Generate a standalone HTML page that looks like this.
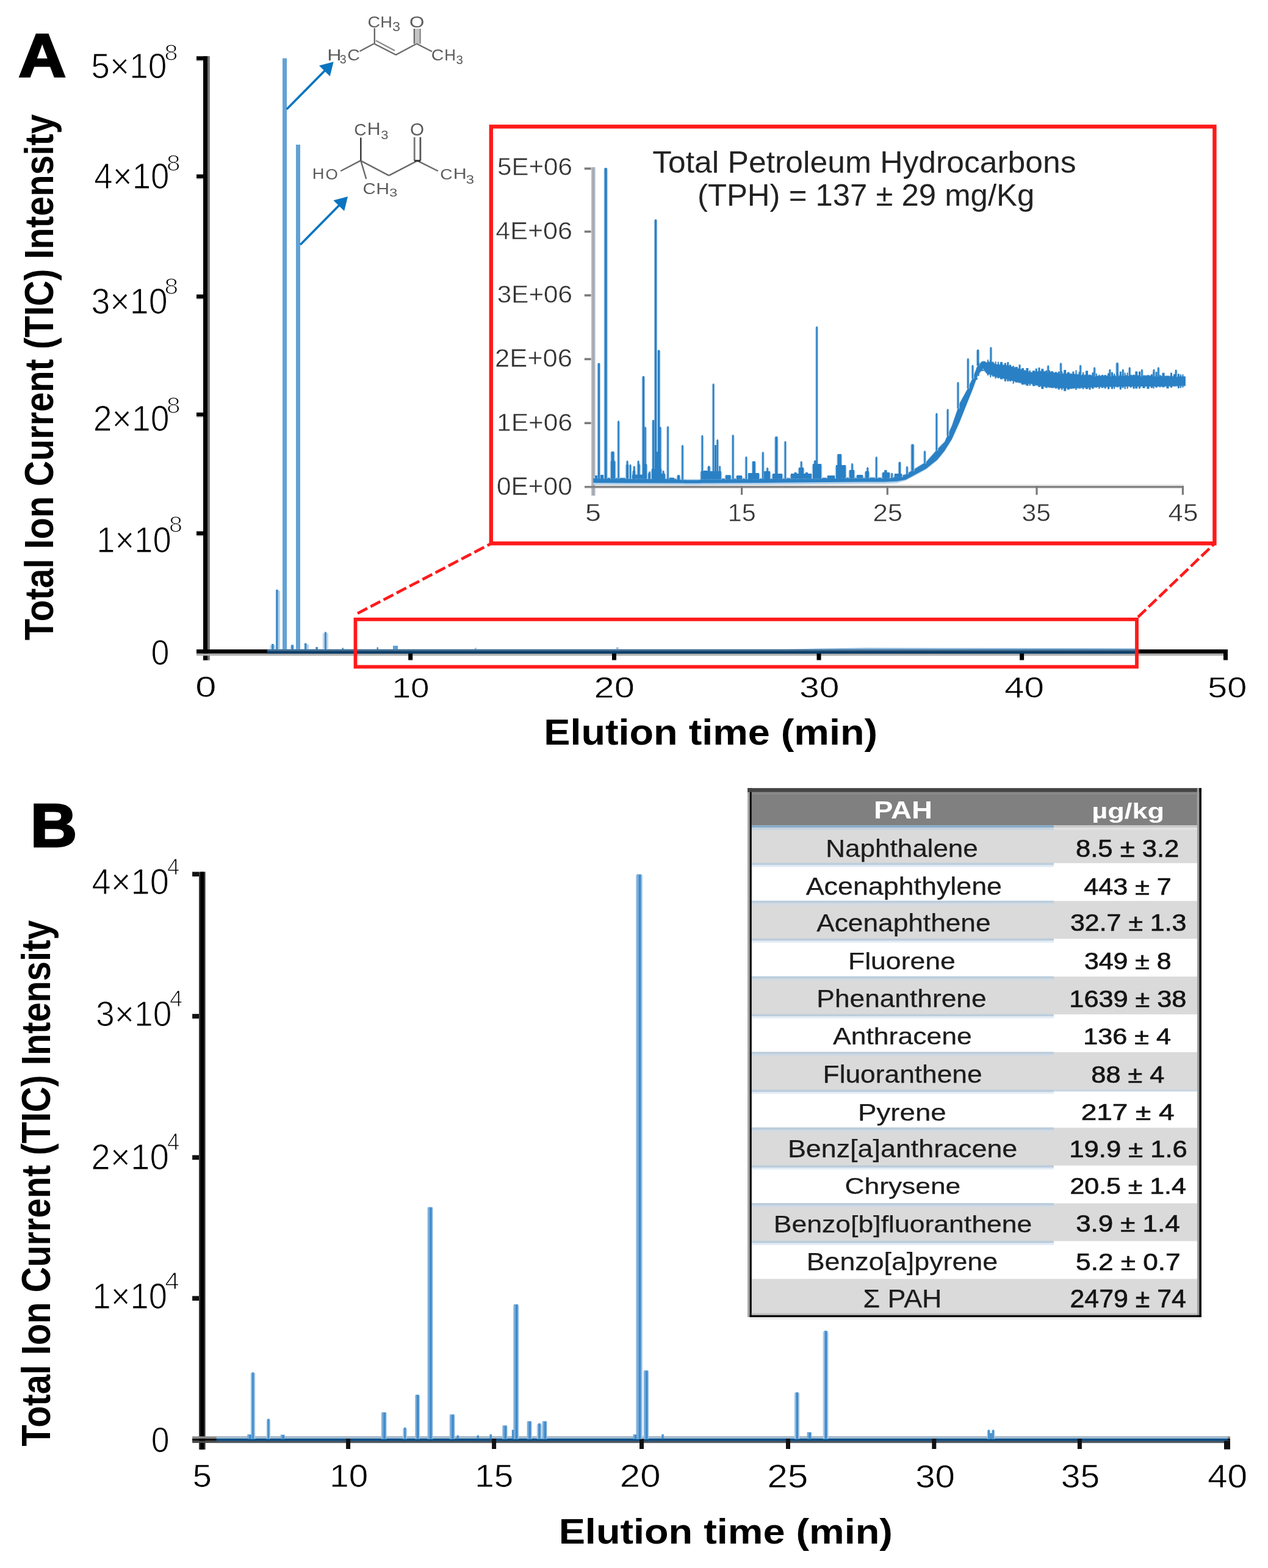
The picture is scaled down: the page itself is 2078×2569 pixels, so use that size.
<!DOCTYPE html>
<html><head><meta charset="utf-8"><title>TIC chromatograms</title>
<style>
html,body{margin:0;padding:0;background:#fff;overflow:hidden;}
svg{display:block;}
</style></head>
<body>
<svg width="2078" height="2569" viewBox="0 0 2078 2569">
<rect width="2078" height="2569" fill="#fff"/>
<text x="30.21" y="126.30" font-size="99.71" textLength="77.93" lengthAdjust="spacingAndGlyphs" font-family="Liberation Sans, Arial, sans-serif" font-weight="bold" fill="#000" stroke="#000" stroke-width="3.0">A</text>
<text transform="translate(86.80 1049.25) rotate(-90)" x="0" y="0" font-size="67.30" textLength="862.25" lengthAdjust="spacingAndGlyphs" font-family="Liberation Sans, Arial, sans-serif" font-weight="bold" fill="#000">Total Ion Current (TIC) Intensity</text>
<rect x="333.00" y="92.00" width="7.00" height="989.80" fill="#000"/>
<rect x="340.00" y="92.00" width="3.80" height="989.80" fill="#707070"/>
<rect x="322.00" y="92.20" width="11.00" height="6.60" fill="#000"/>
<rect x="322.00" y="98.80" width="11.00" height="1.70" fill="#c8c8c8"/>
<rect x="322.00" y="285.70" width="11.00" height="6.60" fill="#000"/>
<rect x="322.00" y="292.30" width="11.00" height="1.70" fill="#c8c8c8"/>
<rect x="322.00" y="482.50" width="11.00" height="6.60" fill="#000"/>
<rect x="322.00" y="489.10" width="11.00" height="1.70" fill="#c8c8c8"/>
<rect x="322.00" y="675.90" width="11.00" height="6.60" fill="#000"/>
<rect x="322.00" y="682.50" width="11.00" height="1.70" fill="#c8c8c8"/>
<rect x="322.00" y="870.50" width="11.00" height="6.60" fill="#000"/>
<rect x="322.00" y="877.10" width="11.00" height="1.70" fill="#c8c8c8"/>
<text x="149.34" y="127.75" font-size="58.28" textLength="124.16" lengthAdjust="spacingAndGlyphs" font-family="Liberation Sans, Arial, sans-serif" fill="#000" stroke="#fff" stroke-width="1.1">5×10</text>
<text x="269.59" y="98.90" font-size="36.82" textLength="21.93" lengthAdjust="spacingAndGlyphs" font-family="Liberation Sans, Arial, sans-serif" fill="#000" stroke="#fff" stroke-width="1.2">8</text>
<text x="154.29" y="309.05" font-size="59.01" textLength="123.19" lengthAdjust="spacingAndGlyphs" font-family="Liberation Sans, Arial, sans-serif" fill="#000" stroke="#fff" stroke-width="1.1">4×10</text>
<text x="273.04" y="279.60" font-size="36.68" textLength="22.52" lengthAdjust="spacingAndGlyphs" font-family="Liberation Sans, Arial, sans-serif" fill="#000" stroke="#fff" stroke-width="1.2">8</text>
<text x="149.43" y="514.35" font-size="58.58" textLength="125.19" lengthAdjust="spacingAndGlyphs" font-family="Liberation Sans, Arial, sans-serif" fill="#000" stroke="#fff" stroke-width="1.1">3×10</text>
<text x="269.53" y="481.80" font-size="36.82" textLength="22.64" lengthAdjust="spacingAndGlyphs" font-family="Liberation Sans, Arial, sans-serif" fill="#000" stroke="#fff" stroke-width="1.2">8</text>
<text x="152.76" y="706.25" font-size="58.58" textLength="124.75" lengthAdjust="spacingAndGlyphs" font-family="Liberation Sans, Arial, sans-serif" fill="#000" stroke="#fff" stroke-width="1.1">2×10</text>
<text x="273.04" y="676.90" font-size="36.39" textLength="22.52" lengthAdjust="spacingAndGlyphs" font-family="Liberation Sans, Arial, sans-serif" fill="#000" stroke="#fff" stroke-width="1.2">8</text>
<text x="158.30" y="904.85" font-size="58.58" textLength="122.57" lengthAdjust="spacingAndGlyphs" font-family="Liberation Sans, Arial, sans-serif" fill="#000" stroke="#fff" stroke-width="1.1">1×10</text>
<text x="277.09" y="871.80" font-size="36.39" textLength="21.93" lengthAdjust="spacingAndGlyphs" font-family="Liberation Sans, Arial, sans-serif" fill="#000" stroke="#fff" stroke-width="1.2">8</text>
<text x="247.44" y="1089.05" font-size="57.34" textLength="30.02" lengthAdjust="spacingAndGlyphs" font-family="Liberation Sans, Arial, sans-serif" fill="#000" stroke="#fff" stroke-width="1.1">0</text>
<rect x="322.00" y="1064.00" width="1690.00" height="6.80" fill="#000"/>
<rect x="322.00" y="1070.80" width="1690.00" height="3.60" fill="#b0b0b0"/>
<rect x="669.20" y="1067.00" width="7.00" height="14.50" fill="#000"/>
<rect x="1003.00" y="1067.00" width="7.00" height="14.50" fill="#000"/>
<rect x="1338.50" y="1067.00" width="7.00" height="14.50" fill="#000"/>
<rect x="1671.10" y="1067.00" width="7.00" height="14.50" fill="#000"/>
<rect x="2005.00" y="1067.00" width="7.00" height="14.50" fill="#000"/>
<text x="320.30" y="1141.90" font-size="47.74" textLength="34.20" lengthAdjust="spacingAndGlyphs" font-family="Liberation Sans, Arial, sans-serif" fill="#000" stroke="#fff" stroke-width="0.6">0</text>
<text x="642.62" y="1142.70" font-size="46.95" textLength="61.02" lengthAdjust="spacingAndGlyphs" font-family="Liberation Sans, Arial, sans-serif" fill="#000" stroke="#fff" stroke-width="0.6">10</text>
<text x="973.50" y="1142.70" font-size="48.71" textLength="66.44" lengthAdjust="spacingAndGlyphs" font-family="Liberation Sans, Arial, sans-serif" fill="#000" stroke="#fff" stroke-width="0.6">20</text>
<text x="1309.96" y="1143.30" font-size="48.16" textLength="65.44" lengthAdjust="spacingAndGlyphs" font-family="Liberation Sans, Arial, sans-serif" fill="#000" stroke="#fff" stroke-width="0.6">30</text>
<text x="1645.96" y="1143.30" font-size="47.42" textLength="65.13" lengthAdjust="spacingAndGlyphs" font-family="Liberation Sans, Arial, sans-serif" fill="#000" stroke="#fff" stroke-width="0.6">40</text>
<text x="1979.09" y="1143.30" font-size="47.42" textLength="64.27" lengthAdjust="spacingAndGlyphs" font-family="Liberation Sans, Arial, sans-serif" fill="#000" stroke="#fff" stroke-width="0.6">50</text>
<text x="891.27" y="1219.60" font-size="58.72" textLength="546.76" lengthAdjust="spacingAndGlyphs" font-family="Liberation Sans, Arial, sans-serif" font-weight="bold" fill="#000">Elution time (min)</text>
<rect x="437.90" y="1063.70" width="1426.10" height="3.50" fill="#3f6a8e"/>
<rect x="437.90" y="1067.20" width="1426.10" height="3.60" fill="#043f6d"/>
<path d="M1290 1063.7 L1340 1062.4 L1420 1061.6 L1864 1062.2 L1864 1063.8 L1290 1063.8 Z" fill="#7fb0da"/>
<rect x="442.50" y="1057.00" width="8.70" height="7.00" fill="#bcd5ec"/>
<rect x="445.00" y="1055.00" width="3.70" height="9.00" fill="#3d8cc8"/>
<rect x="452.10" y="966.10" width="3.70" height="97.90" fill="#3d8cc8"/>
<rect x="455.80" y="968.00" width="3.00" height="96.00" fill="#b4d0ea"/>
<rect x="463.00" y="95.50" width="7.10" height="968.50" fill="#64a2d4"/>
<rect x="475.70" y="1058.40" width="6.70" height="5.60" fill="#bcd5ec"/>
<rect x="477.20" y="1056.40" width="3.70" height="7.60" fill="#3d8cc8"/>
<rect x="485.00" y="237.00" width="7.00" height="827.00" fill="#64a2d4"/>
<rect x="498.90" y="1054.00" width="3.80" height="10.00" fill="#3d8cc8"/>
<rect x="502.70" y="1056.00" width="3.30" height="8.00" fill="#b4d0ea"/>
<rect x="517.30" y="1060.10" width="3.70" height="3.90" fill="#3d8cc8"/>
<rect x="528.90" y="1037.40" width="9.00" height="26.60" fill="#bcd5ec"/>
<rect x="531.90" y="1035.40" width="3.00" height="28.60" fill="#3d8cc8"/>
<rect x="560.50" y="1061.50" width="2.50" height="2.50" fill="#3d8cc8"/>
<rect x="617.50" y="1060.50" width="2.50" height="3.50" fill="#3d8cc8"/>
<rect x="644.00" y="1058.00" width="8.00" height="6.00" fill="#5d9fd3"/>
<rect x="778.00" y="1061.50" width="3.00" height="2.50" fill="#8dbbe2"/>
<rect x="1010.00" y="1060.50" width="3.50" height="3.50" fill="#8dbbe2"/>
<line x1="469.80" y1="179.00" x2="533.24" y2="114.81" stroke="#0a74c0" stroke-width="3.60"/>
<polygon points="546.60,101.30 540.73,125.02 522.95,107.45" fill="#0a74c0"/>
<line x1="492.10" y1="401.00" x2="556.66" y2="335.53" stroke="#0a74c0" stroke-width="3.60"/>
<polygon points="570.00,322.00 564.16,345.73 546.35,328.18" fill="#0a74c0"/>
<text x="536.36" y="98.60" font-size="26.02" textLength="23.27" lengthAdjust="spacingAndGlyphs" font-family="Liberation Sans, Arial, sans-serif" fill="#5c5c5c">H</text>
<text x="556.75" y="104.00" font-size="20.77" textLength="10.91" lengthAdjust="spacingAndGlyphs" font-family="Liberation Sans, Arial, sans-serif" fill="#5c5c5c">3</text>
<text x="569.36" y="98.60" font-size="25.64" textLength="20.53" lengthAdjust="spacingAndGlyphs" font-family="Liberation Sans, Arial, sans-serif" fill="#5c5c5c">C</text>
<text x="602.56" y="44.70" font-size="25.64" textLength="20.53" lengthAdjust="spacingAndGlyphs" font-family="Liberation Sans, Arial, sans-serif" fill="#5c5c5c">C</text>
<text x="623.17" y="44.70" font-size="26.02" textLength="19.65" lengthAdjust="spacingAndGlyphs" font-family="Liberation Sans, Arial, sans-serif" fill="#5c5c5c">H</text>
<text x="643.12" y="51.00" font-size="22.21" textLength="12.90" lengthAdjust="spacingAndGlyphs" font-family="Liberation Sans, Arial, sans-serif" fill="#5c5c5c">3</text>
<text x="670.92" y="44.90" font-size="25.56" textLength="24.38" lengthAdjust="spacingAndGlyphs" font-family="Liberation Sans, Arial, sans-serif" fill="#5c5c5c">O</text>
<text x="706.86" y="98.60" font-size="25.64" textLength="20.53" lengthAdjust="spacingAndGlyphs" font-family="Liberation Sans, Arial, sans-serif" fill="#5c5c5c">C</text>
<text x="728.37" y="98.60" font-size="26.02" textLength="18.75" lengthAdjust="spacingAndGlyphs" font-family="Liberation Sans, Arial, sans-serif" fill="#5c5c5c">H</text>
<text x="747.62" y="105.00" font-size="20.77" textLength="11.38" lengthAdjust="spacingAndGlyphs" font-family="Liberation Sans, Arial, sans-serif" fill="#5c5c5c">3</text>
<line x1="589.50" y1="84.00" x2="612.50" y2="71.70" stroke="#6a6a6a" stroke-width="2.40" stroke-linecap="butt"/>
<line x1="613.80" y1="71.70" x2="613.80" y2="46.00" stroke="#6a6a6a" stroke-width="2.40" stroke-linecap="butt"/>
<line x1="612.50" y1="71.20" x2="649.00" y2="90.00" stroke="#6a6a6a" stroke-width="2.40" stroke-linecap="butt"/>
<line x1="616.00" y1="66.50" x2="647.00" y2="83.00" stroke="#8a8a8a" stroke-width="2.40" stroke-linecap="butt"/>
<line x1="648.50" y1="90.00" x2="683.00" y2="71.50" stroke="#6a6a6a" stroke-width="2.40" stroke-linecap="butt"/>
<line x1="679.00" y1="71.70" x2="679.00" y2="47.00" stroke="#6a6a6a" stroke-width="2.60" stroke-linecap="butt"/>
<line x1="688.50" y1="71.70" x2="688.50" y2="47.00" stroke="#8a8a8a" stroke-width="2.60" stroke-linecap="butt"/>
<rect x="680.30" y="47.00" width="6.90" height="24.70" fill="#c4c4c4"/>
<line x1="682.50" y1="71.50" x2="708.00" y2="84.50" stroke="#6a6a6a" stroke-width="2.40" stroke-linecap="butt"/>
<text x="511.65" y="293.20" font-size="24.56" textLength="19.78" lengthAdjust="spacingAndGlyphs" font-family="Liberation Sans, Arial, sans-serif" fill="#5c5c5c">H</text>
<text x="533.56" y="293.50" font-size="24.72" textLength="20.28" lengthAdjust="spacingAndGlyphs" font-family="Liberation Sans, Arial, sans-serif" fill="#5c5c5c">O</text>
<text x="580.17" y="221.50" font-size="28.53" textLength="20.30" lengthAdjust="spacingAndGlyphs" font-family="Liberation Sans, Arial, sans-serif" fill="#5c5c5c">C</text>
<text x="601.72" y="221.30" font-size="28.63" textLength="21.85" lengthAdjust="spacingAndGlyphs" font-family="Liberation Sans, Arial, sans-serif" fill="#5c5c5c">H</text>
<text x="624.36" y="227.90" font-size="19.63" textLength="12.20" lengthAdjust="spacingAndGlyphs" font-family="Liberation Sans, Arial, sans-serif" fill="#5c5c5c">3</text>
<text x="594.61" y="318.40" font-size="26.41" textLength="21.21" lengthAdjust="spacingAndGlyphs" font-family="Liberation Sans, Arial, sans-serif" fill="#5c5c5c">C</text>
<text x="616.22" y="318.20" font-size="26.45" textLength="21.85" lengthAdjust="spacingAndGlyphs" font-family="Liberation Sans, Arial, sans-serif" fill="#5c5c5c">H</text>
<text x="637.99" y="322.30" font-size="18.48" textLength="13.26" lengthAdjust="spacingAndGlyphs" font-family="Liberation Sans, Arial, sans-serif" fill="#5c5c5c">3</text>
<text x="672.10" y="221.70" font-size="28.81" textLength="23.02" lengthAdjust="spacingAndGlyphs" font-family="Liberation Sans, Arial, sans-serif" fill="#5c5c5c">O</text>
<text x="721.27" y="293.50" font-size="23.16" textLength="20.30" lengthAdjust="spacingAndGlyphs" font-family="Liberation Sans, Arial, sans-serif" fill="#5c5c5c">C</text>
<text x="742.80" y="293.20" font-size="23.40" textLength="21.98" lengthAdjust="spacingAndGlyphs" font-family="Liberation Sans, Arial, sans-serif" fill="#5c5c5c">H</text>
<text x="763.79" y="301.30" font-size="20.77" textLength="13.26" lengthAdjust="spacingAndGlyphs" font-family="Liberation Sans, Arial, sans-serif" fill="#5c5c5c">3</text>
<line x1="558.20" y1="280.30" x2="590.50" y2="263.40" stroke="#6a6a6a" stroke-width="2.40" stroke-linecap="butt"/>
<line x1="591.30" y1="264.50" x2="591.30" y2="225.50" stroke="#333" stroke-width="2.40" stroke-linecap="butt"/>
<line x1="591.30" y1="263.40" x2="600.20" y2="293.20" stroke="#6a6a6a" stroke-width="2.40" stroke-linecap="butt"/>
<line x1="591.30" y1="263.40" x2="637.30" y2="287.60" stroke="#6a6a6a" stroke-width="2.40" stroke-linecap="butt"/>
<line x1="637.30" y1="287.60" x2="684.00" y2="263.40" stroke="#6a6a6a" stroke-width="2.40" stroke-linecap="butt"/>
<line x1="679.20" y1="263.40" x2="679.20" y2="224.70" stroke="#777" stroke-width="2.80" stroke-linecap="butt"/>
<line x1="688.90" y1="263.40" x2="688.90" y2="224.70" stroke="#555" stroke-width="2.80" stroke-linecap="butt"/>
<line x1="684.00" y1="263.40" x2="717.90" y2="280.30" stroke="#6a6a6a" stroke-width="2.40" stroke-linecap="butt"/>
<line x1="679.20" y1="263.40" x2="689.00" y2="263.40" stroke="#333" stroke-width="3.00"/>
<rect x="582.5" y="1014.8" width="1280.5" height="77.7" fill="none" stroke="#ff1a1a" stroke-width="5.8"/>
<line x1="586.00" y1="1005.00" x2="804.00" y2="891.00" stroke="#ff1a1a" stroke-width="4.60" stroke-dasharray="18 6"/>
<line x1="1865.00" y1="1011.00" x2="1990.00" y2="891.00" stroke="#ff1a1a" stroke-width="4.60" stroke-dasharray="18 6"/>
<rect x="804.8" y="207.4" width="1185.6" height="682.9" fill="#fff" stroke="#ff1a1a" stroke-width="6.4"/>
<rect x="969.00" y="274.00" width="6.60" height="538.00" fill="#b8bcc4"/>
<rect x="970.80" y="274.00" width="3.00" height="538.00" fill="#a4a8b0"/>
<rect x="958.00" y="796.00" width="982.00" height="3.60" fill="#858585"/>
<rect x="975.80" y="793.20" width="964.20" height="2.80" fill="#ececec"/>
<rect x="957.80" y="274.40" width="10.80" height="3.60" fill="#7a7a7a"/>
<rect x="957.80" y="377.70" width="10.80" height="3.60" fill="#7a7a7a"/>
<rect x="957.80" y="482.10" width="10.80" height="3.60" fill="#7a7a7a"/>
<rect x="957.80" y="586.60" width="10.80" height="3.60" fill="#7a7a7a"/>
<rect x="957.80" y="691.40" width="10.80" height="3.60" fill="#7a7a7a"/>
<rect x="1214.00" y="796.00" width="3.20" height="14.70" fill="#7a7a7a"/>
<rect x="1452.70" y="796.00" width="3.20" height="14.70" fill="#7a7a7a"/>
<rect x="1697.40" y="796.00" width="3.20" height="14.70" fill="#7a7a7a"/>
<rect x="1936.80" y="796.00" width="3.20" height="14.70" fill="#7a7a7a"/>
<text x="814.96" y="286.95" font-size="41.40" textLength="123.04" lengthAdjust="spacingAndGlyphs" font-family="Liberation Sans, Arial, sans-serif" fill="#333333" stroke="#fff" stroke-width="0.5">5E+06</text>
<text x="812.16" y="391.75" font-size="41.40" textLength="125.88" lengthAdjust="spacingAndGlyphs" font-family="Liberation Sans, Arial, sans-serif" fill="#333333" stroke="#fff" stroke-width="0.5">4E+06</text>
<text x="814.84" y="496.35" font-size="41.55" textLength="123.16" lengthAdjust="spacingAndGlyphs" font-family="Liberation Sans, Arial, sans-serif" fill="#333333" stroke="#fff" stroke-width="0.5">3E+06</text>
<text x="810.96" y="601.25" font-size="41.69" textLength="127.10" lengthAdjust="spacingAndGlyphs" font-family="Liberation Sans, Arial, sans-serif" fill="#333333" stroke="#fff" stroke-width="0.5">2E+06</text>
<text x="814.12" y="706.05" font-size="41.55" textLength="123.90" lengthAdjust="spacingAndGlyphs" font-family="Liberation Sans, Arial, sans-serif" fill="#333333" stroke="#fff" stroke-width="0.5">1E+06</text>
<text x="813.99" y="810.85" font-size="42.69" textLength="123.81" lengthAdjust="spacingAndGlyphs" font-family="Liberation Sans, Arial, sans-serif" fill="#333333" stroke="#fff" stroke-width="0.5">0E+00</text>
<text x="959.08" y="854.15" font-size="41.55" textLength="25.92" lengthAdjust="spacingAndGlyphs" font-family="Liberation Sans, Arial, sans-serif" fill="#333333" stroke="#fff" stroke-width="0.5">5</text>
<text x="1192.79" y="854.15" font-size="41.55" textLength="46.10" lengthAdjust="spacingAndGlyphs" font-family="Liberation Sans, Arial, sans-serif" fill="#333333" stroke="#fff" stroke-width="0.5">15</text>
<text x="1430.45" y="853.85" font-size="40.69" textLength="48.74" lengthAdjust="spacingAndGlyphs" font-family="Liberation Sans, Arial, sans-serif" fill="#333333" stroke="#fff" stroke-width="0.5">25</text>
<text x="1674.52" y="853.85" font-size="40.69" textLength="47.52" lengthAdjust="spacingAndGlyphs" font-family="Liberation Sans, Arial, sans-serif" fill="#333333" stroke="#fff" stroke-width="0.5">35</text>
<text x="1914.44" y="853.85" font-size="40.69" textLength="49.06" lengthAdjust="spacingAndGlyphs" font-family="Liberation Sans, Arial, sans-serif" fill="#333333" stroke="#fff" stroke-width="0.5">45</text>
<text x="1069.25" y="282.70" font-size="50.58" textLength="694.30" lengthAdjust="spacingAndGlyphs" font-family="Liberation Sans, Arial, sans-serif" fill="#222222">Total Petroleum Hydrocarbons</text>
<text x="1142.95" y="336.60" font-size="50.58" textLength="552.33" lengthAdjust="spacingAndGlyphs" font-family="Liberation Sans, Arial, sans-serif" fill="#222222">(TPH) = 137 ± 29 mg/Kg</text>
<polygon points="972.3,781.8 1100.0,782.8 1118.0,784.3 1124.0,785.3 1146.0,785.3 1150.0,783.3 1250.0,782.8 1415.0,781.3 1449.0,781.8 1470.0,780.3 1484.0,776.2 1500.0,766.5 1518.0,755.6 1536.0,735.0 1548.0,722.9 1560.0,696.3 1572.5,659.9 1584.6,638.1 1594.3,617.5 1602.6,596.8 1610.9,590.8 1617.0,592.8 1624.0,590.8 1631.7,595.8 1647.0,596.8 1663.0,600.8 1678.0,605.8 1689.0,608.8 1707.0,606.8 1739.0,610.8 1761.0,611.8 1800.0,614.8 1850.0,613.8 1900.0,614.8 1942.8,615.8 1942.8,633.5 1900.0,634.5 1850.0,634.5 1800.0,635.5 1761.0,637.5 1739.0,637.5 1707.0,634.5 1689.0,630.3 1678.0,630.3 1663.0,626.2 1647.0,622.0 1631.7,618.9 1624.0,615.5 1617.0,613.5 1610.9,605.3 1602.6,615.8 1594.3,638.4 1584.6,662.6 1572.5,692.9 1560.0,720.8 1548.0,740.1 1536.0,754.7 1518.0,769.2 1500.0,778.9 1484.0,787.4 1470.0,791.5 1449.0,792.5 1415.0,792.5 1250.0,794.0 1150.0,794.5 1146.0,794.8 1124.0,794.8 1118.0,794.5 1100.0,794.5 972.3,794.0" fill="#b3d1ec"/>
<polygon points="972.3,783.0 1100.0,784.0 1118.0,785.5 1124.0,786.5 1146.0,786.5 1150.0,784.5 1250.0,784.0 1415.0,782.5 1449.0,783.0 1470.0,781.5 1484.0,777.4 1500.0,767.7 1518.0,756.8 1536.0,736.2 1548.0,724.1 1560.0,697.5 1572.5,661.1 1584.6,639.3 1594.3,618.7 1602.6,598.0 1610.9,592.0 1617.0,594.0 1624.0,592.0 1631.7,597.0 1647.0,598.0 1663.0,602.0 1678.0,607.0 1689.0,610.0 1707.0,608.0 1739.0,612.0 1761.0,613.0 1800.0,616.0 1850.0,615.0 1900.0,616.0 1942.8,617.0 1942.8,632.0 1900.0,633.0 1850.0,633.0 1800.0,634.0 1761.0,636.0 1739.0,636.0 1707.0,633.0 1689.0,628.8 1678.0,628.8 1663.0,624.7 1647.0,620.5 1631.7,617.4 1624.0,614.0 1617.0,612.0 1610.9,603.8 1602.6,614.3 1594.3,636.9 1584.6,661.1 1572.5,691.4 1560.0,719.3 1548.0,738.6 1536.0,753.2 1518.0,767.7 1500.0,777.4 1484.0,785.9 1470.0,788.5 1449.0,789.5 1415.0,789.5 1250.0,791.0 1150.0,791.5 1146.0,791.8 1124.0,791.8 1118.0,791.5 1100.0,791.5 972.3,791.0" fill="#2a80c4"/>
<rect x="999.50" y="756.50" width="10.20" height="27.75" fill="#b3d1ec"/>
<rect x="1024.70" y="762.50" width="6.80" height="21.94" fill="#b3d1ec"/>
<rect x="1035.50" y="772.50" width="7.00" height="12.02" fill="#b3d1ec"/>
<rect x="1043.50" y="761.80" width="6.60" height="22.78" fill="#b3d1ec"/>
<rect x="1034.50" y="779.10" width="20.60" height="5.47" fill="#b3d1ec"/>
<rect x="1060.70" y="776.90" width="6.80" height="7.82" fill="#b3d1ec"/>
<rect x="1066.50" y="769.50" width="19.00" height="15.31" fill="#b3d1ec"/>
<rect x="1082.30" y="777.50" width="9.20" height="7.40" fill="#b3d1ec"/>
<rect x="1095.30" y="784.10" width="11.20" height="0.98" fill="#b3d1ec"/>
<rect x="1108.50" y="779.80" width="7.00" height="6.20" fill="#b3d1ec"/>
<rect x="1147.10" y="773.50" width="36.20" height="11.92" fill="#b3d1ec"/>
<rect x="1158.50" y="765.50" width="6.50" height="19.94" fill="#b3d1ec"/>
<rect x="1187.50" y="779.80" width="11.60" height="5.48" fill="#b3d1ec"/>
<rect x="1205.50" y="780.50" width="12.00" height="4.69" fill="#b3d1ec"/>
<rect x="1224.50" y="776.50" width="21.00" height="8.58" fill="#b3d1ec"/>
<rect x="1250.50" y="773.50" width="13.00" height="11.44" fill="#b3d1ec"/>
<rect x="1264.50" y="777.50" width="19.00" height="7.28" fill="#b3d1ec"/>
<rect x="1294.50" y="777.50" width="37.00" height="6.93" fill="#b3d1ec"/>
<rect x="1307.50" y="767.50" width="11.00" height="16.93" fill="#b3d1ec"/>
<rect x="1330.50" y="761.50" width="17.00" height="22.69" fill="#b3d1ec"/>
<rect x="1354.50" y="780.50" width="15.00" height="3.48" fill="#b3d1ec"/>
<rect x="1368.50" y="763.50" width="19.00" height="20.34" fill="#b3d1ec"/>
<rect x="1390.50" y="771.50" width="11.00" height="12.17" fill="#b3d1ec"/>
<rect x="1402.50" y="779.50" width="13.00" height="4.05" fill="#b3d1ec"/>
<rect x="1416.50" y="773.50" width="9.00" height="10.09" fill="#b3d1ec"/>
<rect x="1444.50" y="775.50" width="15.00" height="8.29" fill="#b3d1ec"/>
<rect x="1464.50" y="777.50" width="15.00" height="4.41" fill="#b3d1ec"/>
<rect x="973.50" y="780.50" width="7.00" height="3.54" fill="#b3d1ec"/>
<rect x="982.50" y="779.50" width="8.00" height="4.61" fill="#b3d1ec"/>
<rect x="1053.50" y="761.50" width="8.00" height="23.17" fill="#b3d1ec"/>
<rect x="1072.50" y="741.50" width="9.00" height="43.32" fill="#b3d1ec"/>
<rect x="978.60" y="596.40" width="5.60" height="187.67" fill="#b3d1ec"/>
<rect x="989.50" y="276.60" width="6.40" height="507.56" fill="#b3d1ec"/>
<rect x="1000.40" y="741.20" width="7.20" height="43.05" fill="#b3d1ec"/>
<rect x="1011.20" y="690.90" width="4.80" height="93.42" fill="#b3d1ec"/>
<rect x="1025.60" y="756.30" width="4.80" height="28.14" fill="#b3d1ec"/>
<rect x="1030.60" y="762.50" width="4.80" height="21.98" fill="#b3d1ec"/>
<rect x="1036.90" y="765.10" width="4.80" height="19.42" fill="#b3d1ec"/>
<rect x="1043.70" y="756.30" width="4.80" height="28.28" fill="#b3d1ec"/>
<rect x="1051.60" y="617.80" width="5.60" height="166.84" fill="#b3d1ec"/>
<rect x="1055.10" y="700.90" width="4.80" height="83.77" fill="#b3d1ec"/>
<rect x="1062.10" y="774.00" width="4.80" height="10.72" fill="#b3d1ec"/>
<rect x="1068.00" y="689.60" width="5.60" height="95.17" fill="#b3d1ec"/>
<rect x="1071.70" y="361.00" width="5.60" height="423.80" fill="#b3d1ec"/>
<rect x="1076.80" y="575.00" width="5.60" height="209.84" fill="#b3d1ec"/>
<rect x="1079.70" y="700.90" width="4.80" height="83.96" fill="#b3d1ec"/>
<rect x="1084.70" y="772.70" width="4.80" height="12.20" fill="#b3d1ec"/>
<rect x="1092.10" y="699.90" width="4.80" height="85.06" fill="#b3d1ec"/>
<rect x="1116.10" y="730.70" width="4.80" height="55.88" fill="#b3d1ec"/>
<rect x="1148.50" y="714.60" width="4.80" height="70.90" fill="#b3d1ec"/>
<rect x="1151.60" y="772.50" width="8.80" height="12.97" fill="#b3d1ec"/>
<rect x="1159.40" y="764.90" width="4.80" height="20.54" fill="#b3d1ec"/>
<rect x="1166.70" y="630.10" width="4.80" height="155.30" fill="#b3d1ec"/>
<rect x="1169.80" y="730.70" width="5.60" height="54.69" fill="#b3d1ec"/>
<rect x="1173.40" y="721.60" width="4.80" height="63.77" fill="#b3d1ec"/>
<rect x="1177.10" y="764.90" width="4.80" height="20.45" fill="#b3d1ec"/>
<rect x="1198.80" y="713.90" width="4.80" height="71.34" fill="#b3d1ec"/>
<rect x="1210.00" y="781.00" width="4.80" height="4.19" fill="#b3d1ec"/>
<rect x="1220.50" y="749.50" width="4.80" height="35.64" fill="#b3d1ec"/>
<rect x="1231.80" y="757.20" width="7.20" height="27.87" fill="#b3d1ec"/>
<rect x="1247.90" y="741.90" width="4.80" height="43.10" fill="#b3d1ec"/>
<rect x="1255.20" y="767.70" width="4.80" height="17.23" fill="#b3d1ec"/>
<rect x="1269.10" y="716.70" width="6.40" height="68.10" fill="#b3d1ec"/>
<rect x="1284.50" y="724.40" width="4.80" height="60.26" fill="#b3d1ec"/>
<rect x="1300.50" y="775.40" width="6.40" height="9.11" fill="#b3d1ec"/>
<rect x="1310.80" y="757.20" width="4.80" height="27.23" fill="#b3d1ec"/>
<rect x="1318.70" y="775.40" width="6.40" height="8.95" fill="#b3d1ec"/>
<rect x="1333.00" y="755.80" width="5.60" height="28.42" fill="#b3d1ec"/>
<rect x="1336.20" y="536.40" width="4.80" height="247.79" fill="#b3d1ec"/>
<rect x="1338.60" y="765.60" width="5.60" height="18.57" fill="#b3d1ec"/>
<rect x="1359.60" y="782.40" width="5.60" height="1.58" fill="#b3d1ec"/>
<rect x="1371.30" y="745.40" width="8.80" height="38.46" fill="#b3d1ec"/>
<rect x="1394.20" y="760.70" width="4.80" height="22.97" fill="#b3d1ec"/>
<rect x="1419.40" y="767.00" width="4.80" height="16.60" fill="#b3d1ec"/>
<rect x="1433.80" y="749.80" width="4.80" height="34.01" fill="#b3d1ec"/>
<rect x="1448.10" y="771.60" width="6.40" height="12.24" fill="#b3d1ec"/>
<rect x="1459.20" y="776.50" width="4.80" height="6.60" fill="#b3d1ec"/>
<rect x="1471.60" y="758.30" width="5.60" height="22.91" fill="#b3d1ec"/>
<rect x="1484.10" y="765.60" width="4.80" height="11.28" fill="#b3d1ec"/>
<rect x="1492.30" y="729.20" width="6.40" height="42.23" fill="#b3d1ec"/>
<rect x="1513.10" y="740.10" width="4.80" height="19.21" fill="#b3d1ec"/>
<rect x="1532.50" y="678.40" width="4.80" height="60.06" fill="#b3d1ec"/>
<rect x="1550.70" y="671.70" width="4.80" height="42.10" fill="#b3d1ec"/>
<rect x="1567.60" y="627.50" width="4.80" height="41.88" fill="#b3d1ec"/>
<rect x="1584.00" y="588.70" width="4.80" height="47.78" fill="#b3d1ec"/>
<rect x="1591.60" y="599.60" width="4.80" height="20.74" fill="#b3d1ec"/>
<rect x="1599.80" y="574.30" width="5.60" height="24.70" fill="#b3d1ec"/>
<rect x="1621.50" y="570.20" width="4.80" height="22.83" fill="#b3d1ec"/>
<rect x="1715.30" y="600.20" width="4.80" height="10.14" fill="#b3d1ec"/>
<rect x="1736.10" y="596.10" width="4.80" height="16.84" fill="#b3d1ec"/>
<rect x="1768.20" y="599.70" width="4.80" height="15.04" fill="#b3d1ec"/>
<rect x="1791.20" y="603.20" width="4.80" height="13.31" fill="#b3d1ec"/>
<rect x="1816.50" y="606.60" width="4.80" height="10.02" fill="#b3d1ec"/>
<rect x="1828.20" y="595.70" width="5.60" height="20.68" fill="#b3d1ec"/>
<rect x="1837.90" y="606.60" width="4.80" height="9.59" fill="#b3d1ec"/>
<rect x="1848.80" y="603.20" width="4.80" height="12.82" fill="#b3d1ec"/>
<rect x="1869.00" y="606.60" width="4.80" height="9.83" fill="#b3d1ec"/>
<rect x="1888.60" y="606.60" width="4.80" height="10.22" fill="#b3d1ec"/>
<rect x="1896.00" y="603.20" width="4.80" height="13.77" fill="#b3d1ec"/>
<rect x="1924.80" y="607.20" width="4.80" height="10.44" fill="#b3d1ec"/>
<rect x="1001.00" y="755.00" width="7.20" height="29.25" fill="#2a80c4"/>
<rect x="1026.20" y="761.00" width="3.80" height="23.44" fill="#2a80c4"/>
<rect x="1037.00" y="771.00" width="4.00" height="13.52" fill="#2a80c4"/>
<rect x="1045.00" y="760.30" width="3.60" height="24.28" fill="#2a80c4"/>
<rect x="1036.00" y="777.60" width="17.60" height="6.97" fill="#2a80c4"/>
<rect x="1062.20" y="775.40" width="3.80" height="9.32" fill="#2a80c4"/>
<rect x="1068.00" y="768.00" width="16.00" height="16.81" fill="#2a80c4"/>
<rect x="1083.80" y="776.00" width="6.20" height="8.90" fill="#2a80c4"/>
<rect x="1096.80" y="782.60" width="8.20" height="2.48" fill="#2a80c4"/>
<rect x="1110.00" y="778.30" width="4.00" height="7.70" fill="#2a80c4"/>
<rect x="1148.60" y="772.00" width="33.20" height="13.42" fill="#2a80c4"/>
<rect x="1160.00" y="764.00" width="3.50" height="21.44" fill="#2a80c4"/>
<rect x="1189.00" y="778.30" width="8.60" height="6.98" fill="#2a80c4"/>
<rect x="1207.00" y="779.00" width="9.00" height="6.19" fill="#2a80c4"/>
<rect x="1226.00" y="775.00" width="18.00" height="10.08" fill="#2a80c4"/>
<rect x="1252.00" y="772.00" width="10.00" height="12.94" fill="#2a80c4"/>
<rect x="1266.00" y="776.00" width="16.00" height="8.78" fill="#2a80c4"/>
<rect x="1296.00" y="776.00" width="34.00" height="8.43" fill="#2a80c4"/>
<rect x="1309.00" y="766.00" width="8.00" height="18.43" fill="#2a80c4"/>
<rect x="1332.00" y="760.00" width="14.00" height="24.19" fill="#2a80c4"/>
<rect x="1356.00" y="779.00" width="12.00" height="4.98" fill="#2a80c4"/>
<rect x="1370.00" y="762.00" width="16.00" height="21.84" fill="#2a80c4"/>
<rect x="1392.00" y="770.00" width="8.00" height="13.67" fill="#2a80c4"/>
<rect x="1404.00" y="778.00" width="10.00" height="5.55" fill="#2a80c4"/>
<rect x="1418.00" y="772.00" width="6.00" height="11.59" fill="#2a80c4"/>
<rect x="1446.00" y="774.00" width="12.00" height="9.79" fill="#2a80c4"/>
<rect x="1466.00" y="776.00" width="12.00" height="5.91" fill="#2a80c4"/>
<rect x="975.00" y="779.00" width="4.00" height="5.04" fill="#2a80c4"/>
<rect x="984.00" y="778.00" width="5.00" height="6.11" fill="#2a80c4"/>
<rect x="1055.00" y="760.00" width="5.00" height="24.67" fill="#2a80c4"/>
<rect x="1074.00" y="740.00" width="6.00" height="44.82" fill="#2a80c4"/>
<rect x="979.80" y="594.90" width="3.20" height="189.17" fill="#2a80c4"/>
<rect x="990.70" y="275.10" width="4.00" height="509.06" fill="#2a80c4"/>
<rect x="1001.60" y="739.70" width="4.80" height="44.55" fill="#2a80c4"/>
<rect x="1012.40" y="689.40" width="2.40" height="94.92" fill="#2a80c4"/>
<rect x="1026.80" y="754.80" width="2.40" height="29.64" fill="#2a80c4"/>
<rect x="1031.80" y="761.00" width="2.40" height="23.48" fill="#2a80c4"/>
<rect x="1038.10" y="763.60" width="2.40" height="20.92" fill="#2a80c4"/>
<rect x="1044.90" y="754.80" width="2.40" height="29.78" fill="#2a80c4"/>
<rect x="1052.80" y="616.30" width="3.20" height="168.34" fill="#2a80c4"/>
<rect x="1056.30" y="699.40" width="2.40" height="85.27" fill="#2a80c4"/>
<rect x="1063.30" y="772.50" width="2.40" height="12.22" fill="#2a80c4"/>
<rect x="1069.20" y="688.10" width="3.20" height="96.67" fill="#2a80c4"/>
<rect x="1072.90" y="359.50" width="3.20" height="425.30" fill="#2a80c4"/>
<rect x="1078.00" y="573.50" width="3.20" height="211.34" fill="#2a80c4"/>
<rect x="1080.90" y="699.40" width="2.40" height="85.46" fill="#2a80c4"/>
<rect x="1085.90" y="771.20" width="2.40" height="13.70" fill="#2a80c4"/>
<rect x="1093.30" y="698.40" width="2.40" height="86.56" fill="#2a80c4"/>
<rect x="1117.30" y="729.20" width="2.40" height="57.38" fill="#2a80c4"/>
<rect x="1149.70" y="713.10" width="2.40" height="72.40" fill="#2a80c4"/>
<rect x="1152.80" y="771.00" width="6.40" height="14.47" fill="#2a80c4"/>
<rect x="1160.60" y="763.40" width="2.40" height="22.04" fill="#2a80c4"/>
<rect x="1167.90" y="628.60" width="2.40" height="156.80" fill="#2a80c4"/>
<rect x="1171.00" y="729.20" width="3.20" height="56.19" fill="#2a80c4"/>
<rect x="1174.60" y="720.10" width="2.40" height="65.27" fill="#2a80c4"/>
<rect x="1178.30" y="763.40" width="2.40" height="21.95" fill="#2a80c4"/>
<rect x="1200.00" y="712.40" width="2.40" height="72.84" fill="#2a80c4"/>
<rect x="1211.20" y="779.50" width="2.40" height="5.69" fill="#2a80c4"/>
<rect x="1221.70" y="748.00" width="2.40" height="37.14" fill="#2a80c4"/>
<rect x="1233.00" y="755.70" width="4.80" height="29.37" fill="#2a80c4"/>
<rect x="1249.10" y="740.40" width="2.40" height="44.60" fill="#2a80c4"/>
<rect x="1256.40" y="766.20" width="2.40" height="18.73" fill="#2a80c4"/>
<rect x="1270.30" y="715.20" width="4.00" height="69.60" fill="#2a80c4"/>
<rect x="1285.70" y="722.90" width="2.40" height="61.76" fill="#2a80c4"/>
<rect x="1301.70" y="773.90" width="4.00" height="10.61" fill="#2a80c4"/>
<rect x="1312.00" y="755.70" width="2.40" height="28.73" fill="#2a80c4"/>
<rect x="1319.90" y="773.90" width="4.00" height="10.45" fill="#2a80c4"/>
<rect x="1334.20" y="754.30" width="3.20" height="29.92" fill="#2a80c4"/>
<rect x="1337.40" y="534.90" width="2.40" height="249.29" fill="#2a80c4"/>
<rect x="1339.80" y="764.10" width="3.20" height="20.07" fill="#2a80c4"/>
<rect x="1360.80" y="780.90" width="3.20" height="3.08" fill="#2a80c4"/>
<rect x="1372.50" y="743.90" width="6.40" height="39.96" fill="#2a80c4"/>
<rect x="1395.40" y="759.20" width="2.40" height="24.47" fill="#2a80c4"/>
<rect x="1420.60" y="765.50" width="2.40" height="18.10" fill="#2a80c4"/>
<rect x="1435.00" y="748.30" width="2.40" height="35.51" fill="#2a80c4"/>
<rect x="1449.30" y="770.10" width="4.00" height="13.74" fill="#2a80c4"/>
<rect x="1460.40" y="775.00" width="2.40" height="8.10" fill="#2a80c4"/>
<rect x="1472.80" y="756.80" width="3.20" height="24.41" fill="#2a80c4"/>
<rect x="1485.30" y="764.10" width="2.40" height="12.78" fill="#2a80c4"/>
<rect x="1493.50" y="727.70" width="4.00" height="43.73" fill="#2a80c4"/>
<rect x="1514.30" y="738.60" width="2.40" height="20.71" fill="#2a80c4"/>
<rect x="1533.70" y="676.90" width="2.40" height="61.56" fill="#2a80c4"/>
<rect x="1551.90" y="670.20" width="2.40" height="43.60" fill="#2a80c4"/>
<rect x="1568.80" y="626.00" width="2.40" height="43.38" fill="#2a80c4"/>
<rect x="1585.20" y="587.20" width="2.40" height="49.28" fill="#2a80c4"/>
<rect x="1592.80" y="598.10" width="2.40" height="22.24" fill="#2a80c4"/>
<rect x="1601.00" y="572.80" width="3.20" height="26.20" fill="#2a80c4"/>
<rect x="1622.70" y="568.70" width="2.40" height="24.33" fill="#2a80c4"/>
<rect x="1716.50" y="598.70" width="2.40" height="11.64" fill="#2a80c4"/>
<rect x="1737.30" y="594.60" width="2.40" height="18.34" fill="#2a80c4"/>
<rect x="1769.40" y="598.20" width="2.40" height="16.54" fill="#2a80c4"/>
<rect x="1792.40" y="601.70" width="2.40" height="14.81" fill="#2a80c4"/>
<rect x="1817.70" y="605.10" width="2.40" height="11.52" fill="#2a80c4"/>
<rect x="1829.40" y="594.20" width="3.20" height="22.18" fill="#2a80c4"/>
<rect x="1839.10" y="605.10" width="2.40" height="11.09" fill="#2a80c4"/>
<rect x="1850.00" y="601.70" width="2.40" height="14.32" fill="#2a80c4"/>
<rect x="1870.20" y="605.10" width="2.40" height="11.33" fill="#2a80c4"/>
<rect x="1889.80" y="605.10" width="2.40" height="11.72" fill="#2a80c4"/>
<rect x="1897.20" y="601.70" width="2.40" height="15.27" fill="#2a80c4"/>
<rect x="1926.00" y="605.70" width="2.40" height="11.94" fill="#2a80c4"/>
<rect x="1600.00" y="602.22" width="2.00" height="4.27" fill="#2a80c4"/>
<rect x="1600.00" y="619.38" width="2.00" height="2.75" fill="#2a80c4"/>
<rect x="1602.72" y="594.16" width="2.00" height="5.75" fill="#2a80c4"/>
<rect x="1602.72" y="612.15" width="2.00" height="3.83" fill="#2a80c4"/>
<rect x="1607.95" y="592.63" width="4.00" height="3.50" fill="#2a80c4"/>
<rect x="1607.95" y="605.54" width="4.00" height="2.43" fill="#2a80c4"/>
<rect x="1612.66" y="591.94" width="2.00" height="2.63" fill="#2a80c4"/>
<rect x="1612.66" y="604.16" width="2.00" height="4.12" fill="#2a80c4"/>
<rect x="1618.00" y="589.30" width="2.00" height="6.41" fill="#2a80c4"/>
<rect x="1618.00" y="610.29" width="2.00" height="4.91" fill="#2a80c4"/>
<rect x="1622.23" y="589.73" width="2.00" height="4.78" fill="#2a80c4"/>
<rect x="1622.23" y="611.49" width="2.00" height="6.88" fill="#2a80c4"/>
<rect x="1626.40" y="592.63" width="2.00" height="2.93" fill="#2a80c4"/>
<rect x="1626.40" y="613.06" width="2.00" height="4.10" fill="#2a80c4"/>
<rect x="1630.61" y="592.37" width="2.00" height="5.92" fill="#2a80c4"/>
<rect x="1630.61" y="614.92" width="2.00" height="5.41" fill="#2a80c4"/>
<rect x="1634.86" y="592.73" width="2.00" height="6.47" fill="#2a80c4"/>
<rect x="1634.86" y="616.04" width="2.00" height="3.86" fill="#2a80c4"/>
<rect x="1639.05" y="593.15" width="4.00" height="6.33" fill="#2a80c4"/>
<rect x="1639.05" y="616.89" width="4.00" height="4.48" fill="#2a80c4"/>
<rect x="1645.88" y="594.67" width="3.00" height="5.26" fill="#2a80c4"/>
<rect x="1645.88" y="618.27" width="3.00" height="6.62" fill="#2a80c4"/>
<rect x="1650.28" y="593.26" width="3.00" height="7.56" fill="#2a80c4"/>
<rect x="1650.28" y="619.36" width="3.00" height="5.49" fill="#2a80c4"/>
<rect x="1654.03" y="597.65" width="3.00" height="4.10" fill="#2a80c4"/>
<rect x="1654.03" y="620.34" width="3.00" height="4.48" fill="#2a80c4"/>
<rect x="1659.72" y="599.16" width="2.00" height="4.02" fill="#2a80c4"/>
<rect x="1659.72" y="621.84" width="2.00" height="6.90" fill="#2a80c4"/>
<rect x="1663.75" y="601.10" width="4.00" height="3.15" fill="#2a80c4"/>
<rect x="1663.75" y="622.91" width="4.00" height="3.71" fill="#2a80c4"/>
<rect x="1669.52" y="597.44" width="3.00" height="8.73" fill="#2a80c4"/>
<rect x="1669.52" y="624.48" width="3.00" height="2.39" fill="#2a80c4"/>
<rect x="1674.04" y="603.23" width="4.00" height="4.45" fill="#2a80c4"/>
<rect x="1674.04" y="625.72" width="4.00" height="4.48" fill="#2a80c4"/>
<rect x="1678.74" y="606.55" width="2.00" height="2.66" fill="#2a80c4"/>
<rect x="1678.74" y="626.80" width="2.00" height="3.35" fill="#2a80c4"/>
<rect x="1681.42" y="603.02" width="4.00" height="6.91" fill="#2a80c4"/>
<rect x="1681.42" y="626.80" width="4.00" height="5.24" fill="#2a80c4"/>
<rect x="1686.78" y="606.69" width="2.00" height="4.70" fill="#2a80c4"/>
<rect x="1686.78" y="626.80" width="2.00" height="5.34" fill="#2a80c4"/>
<rect x="1692.10" y="607.17" width="4.00" height="4.49" fill="#2a80c4"/>
<rect x="1692.10" y="627.52" width="4.00" height="5.05" fill="#2a80c4"/>
<rect x="1696.78" y="603.76" width="3.00" height="7.38" fill="#2a80c4"/>
<rect x="1696.78" y="628.61" width="3.00" height="2.65" fill="#2a80c4"/>
<rect x="1701.47" y="602.20" width="3.00" height="8.42" fill="#2a80c4"/>
<rect x="1701.47" y="629.71" width="3.00" height="4.48" fill="#2a80c4"/>
<rect x="1706.32" y="604.23" width="4.00" height="5.85" fill="#2a80c4"/>
<rect x="1706.32" y="630.84" width="4.00" height="6.42" fill="#2a80c4"/>
<rect x="1713.41" y="606.85" width="3.00" height="3.95" fill="#2a80c4"/>
<rect x="1713.41" y="631.60" width="3.00" height="4.08" fill="#2a80c4"/>
<rect x="1718.96" y="606.83" width="2.00" height="4.66" fill="#2a80c4"/>
<rect x="1718.96" y="632.12" width="2.00" height="3.15" fill="#2a80c4"/>
<rect x="1721.99" y="608.25" width="4.00" height="3.62" fill="#2a80c4"/>
<rect x="1721.99" y="632.41" width="4.00" height="3.17" fill="#2a80c4"/>
<rect x="1728.98" y="609.47" width="3.00" height="3.28" fill="#2a80c4"/>
<rect x="1728.98" y="633.06" width="3.00" height="3.41" fill="#2a80c4"/>
<rect x="1733.74" y="608.76" width="3.00" height="4.58" fill="#2a80c4"/>
<rect x="1733.74" y="633.51" width="3.00" height="4.83" fill="#2a80c4"/>
<rect x="1739.31" y="608.41" width="2.00" height="5.61" fill="#2a80c4"/>
<rect x="1739.31" y="634.00" width="2.00" height="5.09" fill="#2a80c4"/>
<rect x="1743.18" y="606.09" width="4.00" height="8.10" fill="#2a80c4"/>
<rect x="1743.18" y="634.00" width="4.00" height="6.76" fill="#2a80c4"/>
<rect x="1748.87" y="609.69" width="4.00" height="4.76" fill="#2a80c4"/>
<rect x="1748.87" y="634.00" width="4.00" height="4.41" fill="#2a80c4"/>
<rect x="1753.56" y="612.19" width="3.00" height="2.47" fill="#2a80c4"/>
<rect x="1753.56" y="634.00" width="3.00" height="3.04" fill="#2a80c4"/>
<rect x="1757.39" y="608.63" width="3.00" height="6.21" fill="#2a80c4"/>
<rect x="1757.39" y="634.00" width="3.00" height="2.51" fill="#2a80c4"/>
<rect x="1762.50" y="606.47" width="2.00" height="8.64" fill="#2a80c4"/>
<rect x="1762.50" y="633.92" width="2.00" height="5.07" fill="#2a80c4"/>
<rect x="1767.62" y="609.21" width="3.00" height="6.30" fill="#2a80c4"/>
<rect x="1767.62" y="633.66" width="3.00" height="2.74" fill="#2a80c4"/>
<rect x="1773.99" y="609.78" width="2.00" height="6.22" fill="#2a80c4"/>
<rect x="1773.99" y="633.33" width="2.00" height="4.37" fill="#2a80c4"/>
<rect x="1779.04" y="607.44" width="4.00" height="8.95" fill="#2a80c4"/>
<rect x="1779.04" y="633.08" width="4.00" height="4.33" fill="#2a80c4"/>
<rect x="1784.47" y="613.80" width="3.00" height="3.01" fill="#2a80c4"/>
<rect x="1784.47" y="632.80" width="3.00" height="5.75" fill="#2a80c4"/>
<rect x="1789.41" y="610.34" width="3.00" height="6.84" fill="#2a80c4"/>
<rect x="1789.41" y="632.54" width="3.00" height="4.58" fill="#2a80c4"/>
<rect x="1795.76" y="611.98" width="2.00" height="5.70" fill="#2a80c4"/>
<rect x="1795.76" y="632.22" width="2.00" height="2.73" fill="#2a80c4"/>
<rect x="1800.53" y="613.90" width="2.00" height="4.09" fill="#2a80c4"/>
<rect x="1800.53" y="631.99" width="2.00" height="5.21" fill="#2a80c4"/>
<rect x="1805.12" y="614.07" width="3.00" height="3.83" fill="#2a80c4"/>
<rect x="1805.12" y="631.90" width="3.00" height="3.83" fill="#2a80c4"/>
<rect x="1809.69" y="614.25" width="3.00" height="3.56" fill="#2a80c4"/>
<rect x="1809.69" y="631.81" width="3.00" height="4.71" fill="#2a80c4"/>
<rect x="1815.10" y="611.41" width="3.00" height="6.29" fill="#2a80c4"/>
<rect x="1815.10" y="631.70" width="3.00" height="5.94" fill="#2a80c4"/>
<rect x="1821.02" y="609.85" width="3.00" height="7.73" fill="#2a80c4"/>
<rect x="1821.02" y="631.58" width="3.00" height="5.70" fill="#2a80c4"/>
<rect x="1825.12" y="612.05" width="2.00" height="5.45" fill="#2a80c4"/>
<rect x="1825.12" y="631.50" width="2.00" height="5.66" fill="#2a80c4"/>
<rect x="1829.99" y="612.09" width="3.00" height="5.31" fill="#2a80c4"/>
<rect x="1829.99" y="631.40" width="3.00" height="2.97" fill="#2a80c4"/>
<rect x="1834.83" y="608.74" width="3.00" height="8.56" fill="#2a80c4"/>
<rect x="1834.83" y="631.30" width="3.00" height="6.94" fill="#2a80c4"/>
<rect x="1838.57" y="614.51" width="3.00" height="2.72" fill="#2a80c4"/>
<rect x="1838.57" y="631.23" width="3.00" height="4.35" fill="#2a80c4"/>
<rect x="1842.68" y="610.78" width="2.00" height="6.37" fill="#2a80c4"/>
<rect x="1842.68" y="631.15" width="2.00" height="6.50" fill="#2a80c4"/>
<rect x="1846.62" y="610.50" width="2.00" height="6.57" fill="#2a80c4"/>
<rect x="1846.62" y="631.07" width="2.00" height="6.00" fill="#2a80c4"/>
<rect x="1851.63" y="614.19" width="3.00" height="2.84" fill="#2a80c4"/>
<rect x="1851.63" y="631.00" width="3.00" height="3.94" fill="#2a80c4"/>
<rect x="1856.56" y="613.88" width="3.00" height="3.25" fill="#2a80c4"/>
<rect x="1856.56" y="631.00" width="3.00" height="5.95" fill="#2a80c4"/>
<rect x="1860.32" y="608.58" width="4.00" height="8.62" fill="#2a80c4"/>
<rect x="1860.32" y="631.00" width="4.00" height="5.61" fill="#2a80c4"/>
<rect x="1866.03" y="608.69" width="3.00" height="8.63" fill="#2a80c4"/>
<rect x="1866.03" y="631.00" width="3.00" height="5.62" fill="#2a80c4"/>
<rect x="1872.50" y="615.26" width="4.00" height="2.19" fill="#2a80c4"/>
<rect x="1872.50" y="631.00" width="4.00" height="4.95" fill="#2a80c4"/>
<rect x="1879.42" y="614.57" width="4.00" height="3.02" fill="#2a80c4"/>
<rect x="1879.42" y="631.00" width="4.00" height="6.13" fill="#2a80c4"/>
<rect x="1885.90" y="613.27" width="3.00" height="4.45" fill="#2a80c4"/>
<rect x="1885.90" y="631.00" width="3.00" height="4.74" fill="#2a80c4"/>
<rect x="1889.46" y="610.19" width="2.00" height="7.60" fill="#2a80c4"/>
<rect x="1889.46" y="631.00" width="2.00" height="5.63" fill="#2a80c4"/>
<rect x="1893.54" y="609.34" width="3.00" height="8.54" fill="#2a80c4"/>
<rect x="1893.54" y="631.00" width="3.00" height="4.17" fill="#2a80c4"/>
<rect x="1899.52" y="614.51" width="3.00" height="3.48" fill="#2a80c4"/>
<rect x="1899.52" y="631.00" width="3.00" height="3.26" fill="#2a80c4"/>
<rect x="1904.52" y="610.76" width="4.00" height="7.35" fill="#2a80c4"/>
<rect x="1904.52" y="630.89" width="4.00" height="3.63" fill="#2a80c4"/>
<rect x="1911.52" y="615.84" width="4.00" height="2.43" fill="#2a80c4"/>
<rect x="1911.52" y="630.73" width="4.00" height="5.70" fill="#2a80c4"/>
<rect x="1918.01" y="610.72" width="3.00" height="7.71" fill="#2a80c4"/>
<rect x="1918.01" y="630.58" width="3.00" height="4.58" fill="#2a80c4"/>
<rect x="1923.11" y="612.88" width="4.00" height="5.66" fill="#2a80c4"/>
<rect x="1923.11" y="630.46" width="4.00" height="2.09" fill="#2a80c4"/>
<rect x="1929.94" y="612.44" width="3.00" height="6.26" fill="#2a80c4"/>
<rect x="1929.94" y="630.30" width="3.00" height="5.88" fill="#2a80c4"/>
<rect x="1933.95" y="613.48" width="2.00" height="5.31" fill="#2a80c4"/>
<rect x="1933.95" y="630.21" width="2.00" height="5.63" fill="#2a80c4"/>
<rect x="1937.43" y="613.25" width="2.00" height="5.63" fill="#2a80c4"/>
<rect x="1937.43" y="630.13" width="2.00" height="4.78" fill="#2a80c4"/>
<text x="49.71" y="1387.20" font-size="100.29" textLength="76.50" lengthAdjust="spacingAndGlyphs" font-family="Liberation Sans, Arial, sans-serif" font-weight="bold" fill="#000" stroke="#000" stroke-width="3.0">B</text>
<text transform="translate(81.60 2369.85) rotate(-90)" x="0" y="0" font-size="66.57" textLength="862.25" lengthAdjust="spacingAndGlyphs" font-family="Liberation Sans, Arial, sans-serif" font-weight="bold" fill="#000">Total Ion Current (TIC) Intensity</text>
<rect x="326.00" y="1428.40" width="10.60" height="946.50" fill="#3a3a3a"/>
<rect x="328.20" y="1428.40" width="6.20" height="946.50" fill="#000"/>
<rect x="315.10" y="1428.40" width="10.90" height="7.60" fill="#111"/>
<rect x="315.10" y="1661.20" width="10.90" height="7.60" fill="#111"/>
<rect x="315.10" y="1892.60" width="10.90" height="7.60" fill="#111"/>
<rect x="315.10" y="2123.40" width="10.90" height="7.60" fill="#111"/>
<text x="150.56" y="1464.95" font-size="58.58" textLength="126.38" lengthAdjust="spacingAndGlyphs" font-family="Liberation Sans, Arial, sans-serif" fill="#000" stroke="#fff" stroke-width="1.1">4×10</text>
<text x="273.96" y="1432.50" font-size="37.79" textLength="20.31" lengthAdjust="spacingAndGlyphs" font-family="Liberation Sans, Arial, sans-serif" fill="#000" stroke="#fff" stroke-width="1.2">4</text>
<text x="156.94" y="1681.05" font-size="58.28" textLength="124.57" lengthAdjust="spacingAndGlyphs" font-family="Liberation Sans, Arial, sans-serif" fill="#000" stroke="#fff" stroke-width="1.1">3×10</text>
<text x="277.93" y="1649.00" font-size="37.79" textLength="21.08" lengthAdjust="spacingAndGlyphs" font-family="Liberation Sans, Arial, sans-serif" fill="#000" stroke="#fff" stroke-width="1.2">4</text>
<text x="149.30" y="1916.45" font-size="58.87" textLength="127.66" lengthAdjust="spacingAndGlyphs" font-family="Liberation Sans, Arial, sans-serif" fill="#000" stroke="#fff" stroke-width="1.1">2×10</text>
<text x="273.96" y="1884.00" font-size="38.23" textLength="20.31" lengthAdjust="spacingAndGlyphs" font-family="Liberation Sans, Arial, sans-serif" fill="#000" stroke="#fff" stroke-width="1.2">4</text>
<text x="151.40" y="2143.95" font-size="58.58" textLength="122.57" lengthAdjust="spacingAndGlyphs" font-family="Liberation Sans, Arial, sans-serif" fill="#000" stroke="#fff" stroke-width="1.1">1×10</text>
<text x="270.33" y="2111.50" font-size="37.94" textLength="23.62" lengthAdjust="spacingAndGlyphs" font-family="Liberation Sans, Arial, sans-serif" fill="#000" stroke="#fff" stroke-width="1.2">4</text>
<text x="247.65" y="2379.05" font-size="57.34" textLength="29.90" lengthAdjust="spacingAndGlyphs" font-family="Liberation Sans, Arial, sans-serif" fill="#000" stroke="#fff" stroke-width="1.1">0</text>
<rect x="315.10" y="2353.30" width="1700.90" height="3.80" fill="#8a8a8a"/>
<rect x="315.10" y="2357.10" width="1700.90" height="3.60" fill="#000"/>
<rect x="315.10" y="2360.70" width="1700.90" height="3.40" fill="#4a4a4a"/>
<rect x="354.60" y="2353.40" width="1657.40" height="3.70" fill="#a2bccf"/>
<rect x="354.60" y="2357.10" width="1657.40" height="3.60" fill="#03508c"/>
<rect x="354.60" y="2360.70" width="1657.40" height="3.40" fill="#4d5661"/>
<rect x="567.10" y="2357.00" width="7.00" height="17.00" fill="#111"/>
<rect x="806.10" y="2357.00" width="7.00" height="17.00" fill="#111"/>
<rect x="1048.00" y="2357.00" width="7.00" height="17.00" fill="#111"/>
<rect x="1288.00" y="2357.00" width="7.00" height="17.00" fill="#111"/>
<rect x="1527.30" y="2357.00" width="7.00" height="17.00" fill="#111"/>
<rect x="1765.90" y="2357.00" width="7.00" height="17.00" fill="#111"/>
<rect x="2006.00" y="2360.70" width="10.00" height="13.90" fill="#111"/>
<text x="315.66" y="2436.10" font-size="51.58" textLength="31.08" lengthAdjust="spacingAndGlyphs" font-family="Liberation Sans, Arial, sans-serif" fill="#000" stroke="#fff" stroke-width="0.6">5</text>
<text x="540.19" y="2436.10" font-size="51.58" textLength="62.92" lengthAdjust="spacingAndGlyphs" font-family="Liberation Sans, Arial, sans-serif" fill="#000" stroke="#fff" stroke-width="0.6">10</text>
<text x="778.18" y="2436.10" font-size="51.58" textLength="63.10" lengthAdjust="spacingAndGlyphs" font-family="Liberation Sans, Arial, sans-serif" fill="#000" stroke="#fff" stroke-width="0.6">15</text>
<text x="1015.89" y="2436.10" font-size="51.58" textLength="66.65" lengthAdjust="spacingAndGlyphs" font-family="Liberation Sans, Arial, sans-serif" fill="#000" stroke="#fff" stroke-width="0.6">20</text>
<text x="1257.16" y="2436.90" font-size="53.30" textLength="67.17" lengthAdjust="spacingAndGlyphs" font-family="Liberation Sans, Arial, sans-serif" fill="#000" stroke="#fff" stroke-width="0.6">25</text>
<text x="1500.19" y="2436.90" font-size="52.54" textLength="64.69" lengthAdjust="spacingAndGlyphs" font-family="Liberation Sans, Arial, sans-serif" fill="#000" stroke="#fff" stroke-width="0.6">30</text>
<text x="1738.73" y="2436.90" font-size="53.30" textLength="63.36" lengthAdjust="spacingAndGlyphs" font-family="Liberation Sans, Arial, sans-serif" fill="#000" stroke="#fff" stroke-width="0.6">35</text>
<text x="1978.95" y="2436.90" font-size="53.30" textLength="65.24" lengthAdjust="spacingAndGlyphs" font-family="Liberation Sans, Arial, sans-serif" fill="#000" stroke="#fff" stroke-width="0.6">40</text>
<text x="915.67" y="2528.50" font-size="58.28" textLength="547.16" lengthAdjust="spacingAndGlyphs" font-family="Liberation Sans, Arial, sans-serif" font-weight="bold" fill="#000">Elution time (min)</text>
<rect x="410.70" y="2250.00" width="7.60" height="107.50" fill="#b2cfea"/>
<rect x="436.70" y="2326.10" width="6.40" height="31.40" fill="#b2cfea"/>
<rect x="624.70" y="2315.20" width="8.90" height="42.30" fill="#b2cfea"/>
<rect x="660.10" y="2340.30" width="7.00" height="17.20" fill="#b2cfea"/>
<rect x="680.00" y="2286.40" width="8.00" height="71.10" fill="#b2cfea"/>
<rect x="700.40" y="1979.10" width="9.10" height="378.40" fill="#b2cfea"/>
<rect x="736.60" y="2318.70" width="8.90" height="38.80" fill="#b2cfea"/>
<rect x="823.10" y="2336.80" width="8.60" height="20.70" fill="#b2cfea"/>
<rect x="841.00" y="2138.30" width="9.40" height="219.20" fill="#b2cfea"/>
<rect x="863.40" y="2329.80" width="8.20" height="27.70" fill="#b2cfea"/>
<rect x="879.80" y="2333.60" width="8.20" height="23.90" fill="#b2cfea"/>
<rect x="888.40" y="2329.80" width="8.30" height="27.70" fill="#b2cfea"/>
<rect x="1042.00" y="1433.80" width="10.90" height="923.70" fill="#b2cfea"/>
<rect x="1054.50" y="2246.70" width="8.60" height="110.80" fill="#b2cfea"/>
<rect x="1301.60" y="2282.30" width="8.70" height="75.20" fill="#b2cfea"/>
<rect x="1348.60" y="2181.60" width="9.00" height="175.90" fill="#b2cfea"/>
<rect x="1617.60" y="2344.10" width="5.50" height="13.40" fill="#b2cfea"/>
<rect x="1624.90" y="2344.10" width="5.40" height="13.40" fill="#b2cfea"/>
<rect x="412.50" y="2248.50" width="4.00" height="109.00" fill="#4a92cd"/>
<rect x="405.30" y="2350.00" width="7.20" height="7.50" fill="#78acd9"/>
<rect x="408.16" y="2351.00" width="3.20" height="6.50" fill="#3f8acb"/>
<rect x="438.20" y="2324.60" width="3.40" height="32.90" fill="#4a92cd"/>
<rect x="459.80" y="2350.50" width="6.90" height="7.00" fill="#78acd9"/>
<rect x="462.48" y="2351.50" width="3.20" height="6.00" fill="#3f8acb"/>
<rect x="625.50" y="2313.70" width="7.30" height="43.80" fill="#78acd9"/>
<rect x="628.43" y="2314.70" width="3.20" height="42.80" fill="#3f8acb"/>
<rect x="661.90" y="2338.80" width="3.40" height="18.70" fill="#4a92cd"/>
<rect x="681.00" y="2284.90" width="6.00" height="72.60" fill="#78acd9"/>
<rect x="683.12" y="2285.90" width="3.20" height="71.60" fill="#3f8acb"/>
<rect x="701.20" y="1977.60" width="7.50" height="379.90" fill="#78acd9"/>
<rect x="704.25" y="1978.60" width="3.20" height="378.90" fill="#3f8acb"/>
<rect x="737.40" y="2317.20" width="7.30" height="40.30" fill="#78acd9"/>
<rect x="740.33" y="2318.20" width="3.20" height="39.30" fill="#3f8acb"/>
<rect x="748.50" y="2351.70" width="3.50" height="5.80" fill="#4a92cd"/>
<rect x="781.50" y="2351.70" width="3.50" height="5.80" fill="#4a92cd"/>
<rect x="802.50" y="2350.00" width="3.50" height="7.50" fill="#4a92cd"/>
<rect x="823.90" y="2335.30" width="7.00" height="22.20" fill="#78acd9"/>
<rect x="826.64" y="2336.30" width="3.20" height="21.20" fill="#3f8acb"/>
<rect x="838.80" y="2342.60" width="3.50" height="14.90" fill="#4a92cd"/>
<rect x="842.20" y="2136.80" width="7.00" height="220.70" fill="#78acd9"/>
<rect x="844.94" y="2137.80" width="3.20" height="219.70" fill="#3f8acb"/>
<rect x="864.20" y="2328.30" width="6.60" height="29.20" fill="#78acd9"/>
<rect x="866.69" y="2329.30" width="3.20" height="28.20" fill="#3f8acb"/>
<rect x="881.80" y="2332.10" width="4.20" height="25.40" fill="#4a92cd"/>
<rect x="889.20" y="2328.30" width="6.70" height="29.20" fill="#78acd9"/>
<rect x="891.75" y="2329.30" width="3.20" height="28.20" fill="#3f8acb"/>
<rect x="1037.50" y="2350.00" width="6.50" height="7.50" fill="#78acd9"/>
<rect x="1039.93" y="2351.00" width="3.20" height="6.50" fill="#3f8acb"/>
<rect x="1043.50" y="1432.30" width="7.90" height="925.20" fill="#78acd9"/>
<rect x="1046.80" y="1433.30" width="3.20" height="924.20" fill="#3f8acb"/>
<rect x="1055.30" y="2245.20" width="7.00" height="112.30" fill="#78acd9"/>
<rect x="1058.04" y="2246.20" width="3.20" height="111.30" fill="#3f8acb"/>
<rect x="1084.30" y="2350.00" width="3.50" height="7.50" fill="#4a92cd"/>
<rect x="1303.60" y="2280.80" width="4.70" height="76.70" fill="#78acd9"/>
<rect x="1304.91" y="2281.80" width="3.20" height="75.70" fill="#3f8acb"/>
<rect x="1322.60" y="2346.40" width="7.30" height="11.10" fill="#78acd9"/>
<rect x="1325.53" y="2347.40" width="3.20" height="10.10" fill="#3f8acb"/>
<rect x="1350.60" y="2180.10" width="5.00" height="177.40" fill="#78acd9"/>
<rect x="1352.10" y="2181.10" width="3.20" height="176.40" fill="#3f8acb"/>
<rect x="1618.80" y="2342.60" width="3.10" height="14.90" fill="#4a92cd"/>
<rect x="1626.10" y="2342.60" width="3.00" height="14.90" fill="#4a92cd"/>
<rect x="1621.90" y="2348.00" width="4.20" height="9.50" fill="#4a92cd"/>
<rect x="1231.80" y="1297.80" width="730.10" height="853.50" fill="#fff"/>
<rect x="1231.80" y="1297.80" width="730.10" height="54.50" fill="#808080"/>
<rect x="1231.80" y="1297.80" width="730.10" height="4.00" fill="#8a8a8a"/>
<rect x="1231.80" y="1352.30" width="730.10" height="61.92" fill="#dadada"/>
<rect x="1231.80" y="1476.14" width="730.10" height="61.92" fill="#dadada"/>
<rect x="1231.80" y="1599.98" width="730.10" height="61.92" fill="#dadada"/>
<rect x="1231.80" y="1723.82" width="730.10" height="61.92" fill="#dadada"/>
<rect x="1231.80" y="1847.66" width="730.10" height="61.92" fill="#dadada"/>
<rect x="1231.80" y="1971.50" width="730.10" height="61.92" fill="#dadada"/>
<rect x="1231.80" y="2095.34" width="730.10" height="55.96" fill="#dadada"/>
<rect x="1231.80" y="1352.30" width="495.10" height="3.50" fill="#7fa8c8"/>
<rect x="1231.80" y="1355.80" width="495.10" height="3.90" fill="#c5d3df"/>
<rect x="1726.90" y="1352.30" width="235.00" height="3.50" fill="#c8c8c8"/>
<rect x="1726.90" y="1355.80" width="235.00" height="3.90" fill="#e2e2e2"/>
<rect x="1231.80" y="1413.72" width="495.10" height="3.90" fill="#bccddc"/>
<rect x="1231.80" y="1417.62" width="495.10" height="3.10" fill="#e3ecf6"/>
<rect x="1231.80" y="1475.64" width="495.10" height="3.90" fill="#bccddc"/>
<rect x="1231.80" y="1479.54" width="495.10" height="3.10" fill="#d0dae4"/>
<rect x="1231.80" y="1537.56" width="495.10" height="3.90" fill="#bccddc"/>
<rect x="1231.80" y="1541.46" width="495.10" height="3.10" fill="#e3ecf6"/>
<rect x="1231.80" y="1599.48" width="495.10" height="3.90" fill="#bccddc"/>
<rect x="1231.80" y="1603.38" width="495.10" height="3.10" fill="#d0dae4"/>
<rect x="1231.80" y="1661.40" width="495.10" height="3.90" fill="#bccddc"/>
<rect x="1231.80" y="1665.30" width="495.10" height="3.10" fill="#e3ecf6"/>
<rect x="1231.80" y="1723.32" width="495.10" height="3.90" fill="#bccddc"/>
<rect x="1231.80" y="1727.22" width="495.10" height="3.10" fill="#d0dae4"/>
<rect x="1231.80" y="1785.24" width="495.10" height="3.90" fill="#bccddc"/>
<rect x="1231.80" y="1789.14" width="495.10" height="3.10" fill="#e3ecf6"/>
<rect x="1231.80" y="1847.16" width="495.10" height="3.90" fill="#bccddc"/>
<rect x="1231.80" y="1851.06" width="495.10" height="3.10" fill="#d0dae4"/>
<rect x="1231.80" y="1909.08" width="495.10" height="3.90" fill="#bccddc"/>
<rect x="1231.80" y="1912.98" width="495.10" height="3.10" fill="#e3ecf6"/>
<rect x="1231.80" y="1971.00" width="495.10" height="3.90" fill="#bccddc"/>
<rect x="1231.80" y="1974.90" width="495.10" height="3.10" fill="#d0dae4"/>
<rect x="1231.80" y="2032.92" width="495.10" height="3.90" fill="#bccddc"/>
<rect x="1231.80" y="2036.82" width="495.10" height="3.10" fill="#e3ecf6"/>
<rect x="1726.90" y="1785.24" width="235.00" height="3.00" fill="#c6d4e2"/>
<rect x="1225.00" y="1291.20" width="3.60" height="866.80" fill="#a8a8a8"/>
<rect x="1228.60" y="1291.20" width="3.20" height="866.80" fill="#000"/>
<rect x="1225.00" y="1291.20" width="743.90" height="6.60" fill="#444"/>
<rect x="1961.90" y="1291.20" width="3.40" height="866.80" fill="#a0a0a0"/>
<rect x="1965.30" y="1291.20" width="3.60" height="866.80" fill="#000"/>
<rect x="1231.80" y="2151.30" width="730.10" height="3.40" fill="#c0c0c0"/>
<rect x="1228.60" y="2154.70" width="740.30" height="3.30" fill="#000"/>
<rect x="1228.60" y="2158.00" width="740.30" height="3.80" fill="#ececec"/>
<text x="1431.96" y="1341.40" font-size="40.12" textLength="96.01" lengthAdjust="spacingAndGlyphs" font-family="Liberation Sans, Arial, sans-serif" font-weight="bold" fill="#fff">PAH</text>
<text x="1789.24" y="1341.40" font-size="35.53" textLength="118.88" lengthAdjust="spacingAndGlyphs" font-family="Liberation Sans, Arial, sans-serif" font-weight="bold" fill="#fff">µg/kg</text>
<text x="1353.21" y="1404.47" font-size="41.21" textLength="249.62" lengthAdjust="spacingAndGlyphs" font-family="Liberation Sans, Arial, sans-serif" fill="#1c1c1c" stroke="#1c1c1c" stroke-width="0.25">Naphthalene</text>
<text x="1762.96" y="1404.25" font-size="40.55" textLength="169.29" lengthAdjust="spacingAndGlyphs" font-family="Liberation Sans, Arial, sans-serif" fill="#141414" stroke="#141414" stroke-width="0.7">8.5 ± 3.2</text>
<text x="1320.74" y="1465.78" font-size="39.90" textLength="321.23" lengthAdjust="spacingAndGlyphs" font-family="Liberation Sans, Arial, sans-serif" fill="#1c1c1c" stroke="#1c1c1c" stroke-width="0.25">Acenaphthylene</text>
<text x="1776.36" y="1465.55" font-size="39.24" textLength="143.46" lengthAdjust="spacingAndGlyphs" font-family="Liberation Sans, Arial, sans-serif" fill="#141414" stroke="#141414" stroke-width="0.7">443 ± 7</text>
<text x="1338.24" y="1525.67" font-size="39.90" textLength="285.30" lengthAdjust="spacingAndGlyphs" font-family="Liberation Sans, Arial, sans-serif" fill="#1c1c1c" stroke="#1c1c1c" stroke-width="0.25">Acenaphthene</text>
<text x="1754.02" y="1525.45" font-size="39.24" textLength="190.42" lengthAdjust="spacingAndGlyphs" font-family="Liberation Sans, Arial, sans-serif" fill="#141414" stroke="#141414" stroke-width="0.7">32.7 ± 1.3</text>
<text x="1389.97" y="1587.88" font-size="38.59" textLength="175.89" lengthAdjust="spacingAndGlyphs" font-family="Liberation Sans, Arial, sans-serif" fill="#1c1c1c" stroke="#1c1c1c" stroke-width="0.25">Fluorene</text>
<text x="1777.02" y="1587.65" font-size="37.94" textLength="142.49" lengthAdjust="spacingAndGlyphs" font-family="Liberation Sans, Arial, sans-serif" fill="#141414" stroke="#141414" stroke-width="0.7">349 ± 8</text>
<text x="1338.39" y="1650.08" font-size="39.90" textLength="278.15" lengthAdjust="spacingAndGlyphs" font-family="Liberation Sans, Arial, sans-serif" fill="#1c1c1c" stroke="#1c1c1c" stroke-width="0.25">Phenanthrene</text>
<text x="1752.36" y="1649.85" font-size="39.24" textLength="192.07" lengthAdjust="spacingAndGlyphs" font-family="Liberation Sans, Arial, sans-serif" fill="#141414" stroke="#141414" stroke-width="0.7">1639 ± 38</text>
<text x="1365.04" y="1711.17" font-size="38.44" textLength="227.61" lengthAdjust="spacingAndGlyphs" font-family="Liberation Sans, Arial, sans-serif" fill="#1c1c1c" stroke="#1c1c1c" stroke-width="0.25">Anthracene</text>
<text x="1775.37" y="1710.95" font-size="37.79" textLength="143.55" lengthAdjust="spacingAndGlyphs" font-family="Liberation Sans, Arial, sans-serif" fill="#141414" stroke="#141414" stroke-width="0.7">136 ± 4</text>
<text x="1348.59" y="1774.28" font-size="39.75" textLength="261.05" lengthAdjust="spacingAndGlyphs" font-family="Liberation Sans, Arial, sans-serif" fill="#1c1c1c" stroke="#1c1c1c" stroke-width="0.25">Fluoranthene</text>
<text x="1788.37" y="1774.05" font-size="39.10" textLength="119.95" lengthAdjust="spacingAndGlyphs" font-family="Liberation Sans, Arial, sans-serif" fill="#141414" stroke="#141414" stroke-width="0.7">88 ± 4</text>
<text x="1406.08" y="1835.58" font-size="38.44" textLength="144.62" lengthAdjust="spacingAndGlyphs" font-family="Liberation Sans, Arial, sans-serif" fill="#1c1c1c" stroke="#1c1c1c" stroke-width="0.25">Pyrene</text>
<text x="1771.74" y="1835.35" font-size="37.79" textLength="152.75" lengthAdjust="spacingAndGlyphs" font-family="Liberation Sans, Arial, sans-serif" fill="#141414" stroke="#141414" stroke-width="0.7">217 ± 4</text>
<text x="1290.95" y="1896.38" font-size="39.75" textLength="376.32" lengthAdjust="spacingAndGlyphs" font-family="Liberation Sans, Arial, sans-serif" fill="#1c1c1c" stroke="#1c1c1c" stroke-width="0.25">Benz[a]anthracene</text>
<text x="1752.33" y="1896.15" font-size="39.10" textLength="193.43" lengthAdjust="spacingAndGlyphs" font-family="Liberation Sans, Arial, sans-serif" fill="#141414" stroke="#141414" stroke-width="0.7">19.9 ± 1.6</text>
<text x="1384.47" y="1956.28" font-size="37.72" textLength="189.77" lengthAdjust="spacingAndGlyphs" font-family="Liberation Sans, Arial, sans-serif" fill="#1c1c1c" stroke="#1c1c1c" stroke-width="0.25">Chrysene</text>
<text x="1753.49" y="1956.05" font-size="37.06" textLength="190.31" lengthAdjust="spacingAndGlyphs" font-family="Liberation Sans, Arial, sans-serif" fill="#141414" stroke="#141414" stroke-width="0.7">20.5 ± 1.4</text>
<text x="1267.87" y="2018.58" font-size="38.59" textLength="423.38" lengthAdjust="spacingAndGlyphs" font-family="Liberation Sans, Arial, sans-serif" fill="#1c1c1c" stroke="#1c1c1c" stroke-width="0.25">Benzo[b]fluoranthene</text>
<text x="1763.18" y="2018.35" font-size="37.94" textLength="170.46" lengthAdjust="spacingAndGlyphs" font-family="Liberation Sans, Arial, sans-serif" fill="#141414" stroke="#141414" stroke-width="0.7">3.9 ± 1.4</text>
<text x="1321.76" y="2080.78" font-size="39.90" textLength="313.31" lengthAdjust="spacingAndGlyphs" font-family="Liberation Sans, Arial, sans-serif" fill="#1c1c1c" stroke="#1c1c1c" stroke-width="0.25">Benzo[a]pyrene</text>
<text x="1763.08" y="2080.55" font-size="39.24" textLength="171.49" lengthAdjust="spacingAndGlyphs" font-family="Liberation Sans, Arial, sans-serif" fill="#141414" stroke="#141414" stroke-width="0.7">5.2 ± 0.7</text>
<text x="1414.42" y="2141.88" font-size="43.24" textLength="129.02" lengthAdjust="spacingAndGlyphs" font-family="Liberation Sans, Arial, sans-serif" fill="#1c1c1c" stroke="#1c1c1c" stroke-width="0.25">Σ PAH</text>
<text x="1753.49" y="2141.65" font-size="42.59" textLength="190.31" lengthAdjust="spacingAndGlyphs" font-family="Liberation Sans, Arial, sans-serif" fill="#141414" stroke="#141414" stroke-width="0.7">2479 ± 74</text>
</svg>
</body></html>
